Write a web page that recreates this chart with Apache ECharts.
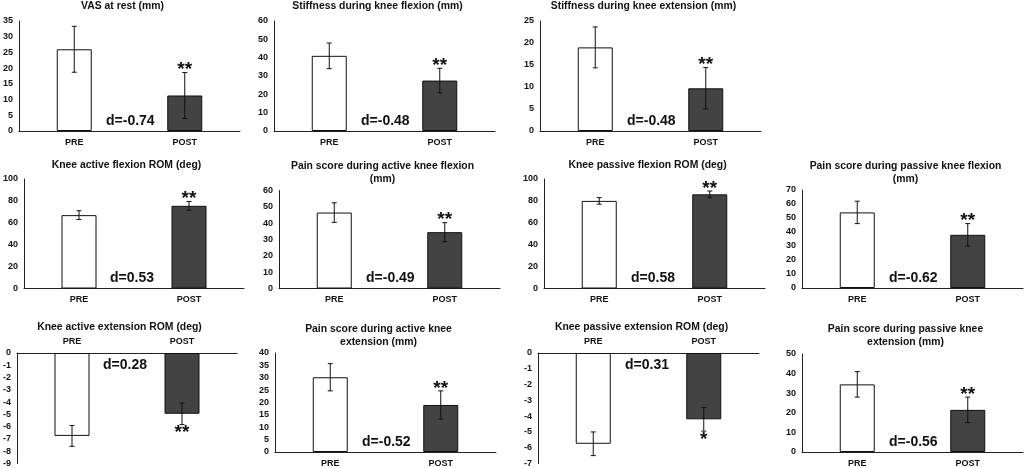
<!DOCTYPE html>
<html>
<head>
<meta charset="utf-8">
<script src="https://cdn.jsdelivr.net/npm/echarts@6/dist/echarts.min.js"></script>
<style>
  html, body { margin: 0; padding: 0; background: #fff; }
  #chart { width: 1026px; height: 468px; }
</style>
</head>
<body>
<div id="chart"></div>
<script>
// values
var categories = ['PRE', 'POST'];
var titles = [
    'VAS at rest (mm)',
    'Stiffness during knee flexion (mm)',
    'Stiffness during knee extension (mm)',
    'Knee active flexion ROM (deg)',
    'Pain score during active knee flexion\n(mm)',
    'Knee passive flexion ROM (deg)',
    'Pain score during passive knee flexion\n(mm)',
    'Knee active extension ROM (deg)',
    'Pain score during active knee\nextension (mm)',
    'Knee passive extension ROM (deg)',
    'Pain score during passive knee\nextension (mm)'
];
var preMean  = [26, 41, 19, 67, 46.5, 80, 54, -6.75, 30.2, -5.75, 34.5];
var preSd    = [7.3, 7, 4.65, 4, 6, 3, 8, 0.85, 5.5, 0.75, 6.5];
var postMean = [11.3, 27.5, 9.7, 75.5, 34.5, 86, 38, -4.95, 19, -4.2, 21.5];
var postSd   = [7.3, 6.7, 4.7, 4, 5.8, 3, 8, 0.88, 5.7, 0.75, 6.5];
var dValues  = [-0.74, -0.48, -0.48, 0.53, -0.49, 0.58, -0.62, 0.28, -0.52, 0.31, -0.56];
var stars    = ['**', '**', '**', '**', '**', '**', '**', '**', '**', '*', '**'];
var yMin  = [0, 0, 0, 0, 0, 0, 0, -9, 0, -7, 0];
var yMax  = [35, 60, 25, 100, 60, 100, 70, 0, 40, 0, 50];
var yStep = [5, 10, 5, 20, 10, 20, 10, 1, 5, 1, 10];

// panel placement (pixels)
var layout = [
    {left: 19,  top: 21,    height: 110,   titleY: 0},
    {left: 274, top: 21,    height: 110,   titleY: 0},
    {left: 540, top: 21,    height: 110,   titleY: 0},
    {left: 23,  top: 179,   height: 109.5, titleY: 158.5},
    {left: 279, top: 190.5, height: 98,    titleY: 160},
    {left: 544, top: 179,   height: 109.5, titleY: 158.5},
    {left: 802, top: 190,   height: 98,    titleY: 160},
    {left: 16,  top: 353,   height: 111,   titleY: 321},
    {left: 275, top: 353,   height: 99,    titleY: 323},
    {left: 538, top: 353,   height: 111,   titleY: 321},
    {left: 802, top: 354,   height: 98,    titleY: 323}
];
var plotWidth = 221;
var font = 'Liberation Sans, Arial, sans-serif';

var grid = [], xAxis = [], yAxis = [], series = [], title = [], graphic = [];

layout.forEach(function (p, i) {
    var negative = yMax[i] <= 0;
    grid.push({left: p.left, top: p.top, width: plotWidth, height: p.height});

    title.push({
        text: titles[i],
        left: p.left + plotWidth / 2 - 7,
        top: p.titleY,
        textAlign: 'center',
        padding: 0,
        textStyle: {fontFamily: font, fontWeight: 'bold', fontSize: 10.4, lineHeight: 13, color: '#111'}
    });

    xAxis.push({
        type: 'category',
        gridIndex: i,
        data: categories,
        position: negative ? 'top' : 'bottom',
        axisLine: {onZero: false, lineStyle: {color: '#222', width: 1}},
        axisTick: {show: false},
        axisLabel: {fontFamily: font, fontWeight: 'bold', fontSize: 9, color: '#111', margin: 7}
    });

    yAxis.push({
        type: 'value',
        gridIndex: i,
        min: yMin[i],
        max: yMax[i],
        interval: yStep[i],
        splitLine: {show: false},
        axisTick: {show: false},
        axisLine: {show: true, lineStyle: {color: '#222', width: 1}},
        axisLabel: {fontFamily: font, fontWeight: 'bold', fontSize: 9, color: '#111', margin: 6}
    });

    series.push({
        type: 'bar',
        xAxisIndex: i,
        yAxisIndex: i,
        barWidth: 35,
        silent: true,
        itemStyle: {borderColor: '#111', borderWidth: 1},
        data: [
            {value: preMean[i], itemStyle: {color: '#ffffff'}},
            {value: postMean[i], itemStyle: {color: '#434343'}}
        ]
    });

    var errData = [
        [0, preMean[i] - preSd[i], preMean[i] + preSd[i]],
        [1, postMean[i] - postSd[i], postMean[i] + postSd[i]]
    ];
    series.push({
        type: 'custom',
        xAxisIndex: i,
        yAxisIndex: i,
        silent: true,
        z: 5,
        data: errData,
        renderItem: function (params, api) {
            var lo = api.coord([api.value(0), api.value(1)]);
            var hi = api.coord([api.value(0), api.value(2)]);
            var x = lo[0], cap = 2.5;
            var children = [
                {type: 'line', shape: {x1: x, y1: lo[1], x2: x, y2: hi[1]}, style: {stroke: '#111', lineWidth: 1}},
                {type: 'line', shape: {x1: x - cap, y1: lo[1], x2: x + cap, y2: lo[1]}, style: {stroke: '#111', lineWidth: 1}},
                {type: 'line', shape: {x1: x - cap, y1: hi[1], x2: x + cap, y2: hi[1]}, style: {stroke: '#111', lineWidth: 1}}
            ];
            if (params.dataIndex === 1) {
                // asterisk glyphs sit near the top of the text box
                children.push({
                    type: 'text',
                    x: x,
                    y: negative ? lo[1] - 1 : hi[1] - 12,
                    style: {
                        text: stars[i],
                        font: 'bold 19px ' + font,
                        fill: '#111',
                        align: 'center',
                        verticalAlign: 'top'
                    }
                });
            }
            return {type: 'group', children: children};
        }
    });

    var zeroY = negative ? p.top : p.top + p.height;
    graphic.push({
        type: 'text',
        left: p.left + 87,
        top: negative ? zeroY + 5 : zeroY - 17,
        style: {
            text: 'd=' + dValues[i].toFixed(2),
            font: 'bold 14px ' + font,
            fill: '#111'
        }
    });
});

var option = {
    animation: false,
    backgroundColor: '#ffffff',
    title: title,
    grid: grid,
    xAxis: xAxis,
    yAxis: yAxis,
    series: series,
    graphic: graphic
};

var myChart = echarts.init(document.getElementById('chart'));
myChart.setOption(option);
</script>
</body>
</html>
